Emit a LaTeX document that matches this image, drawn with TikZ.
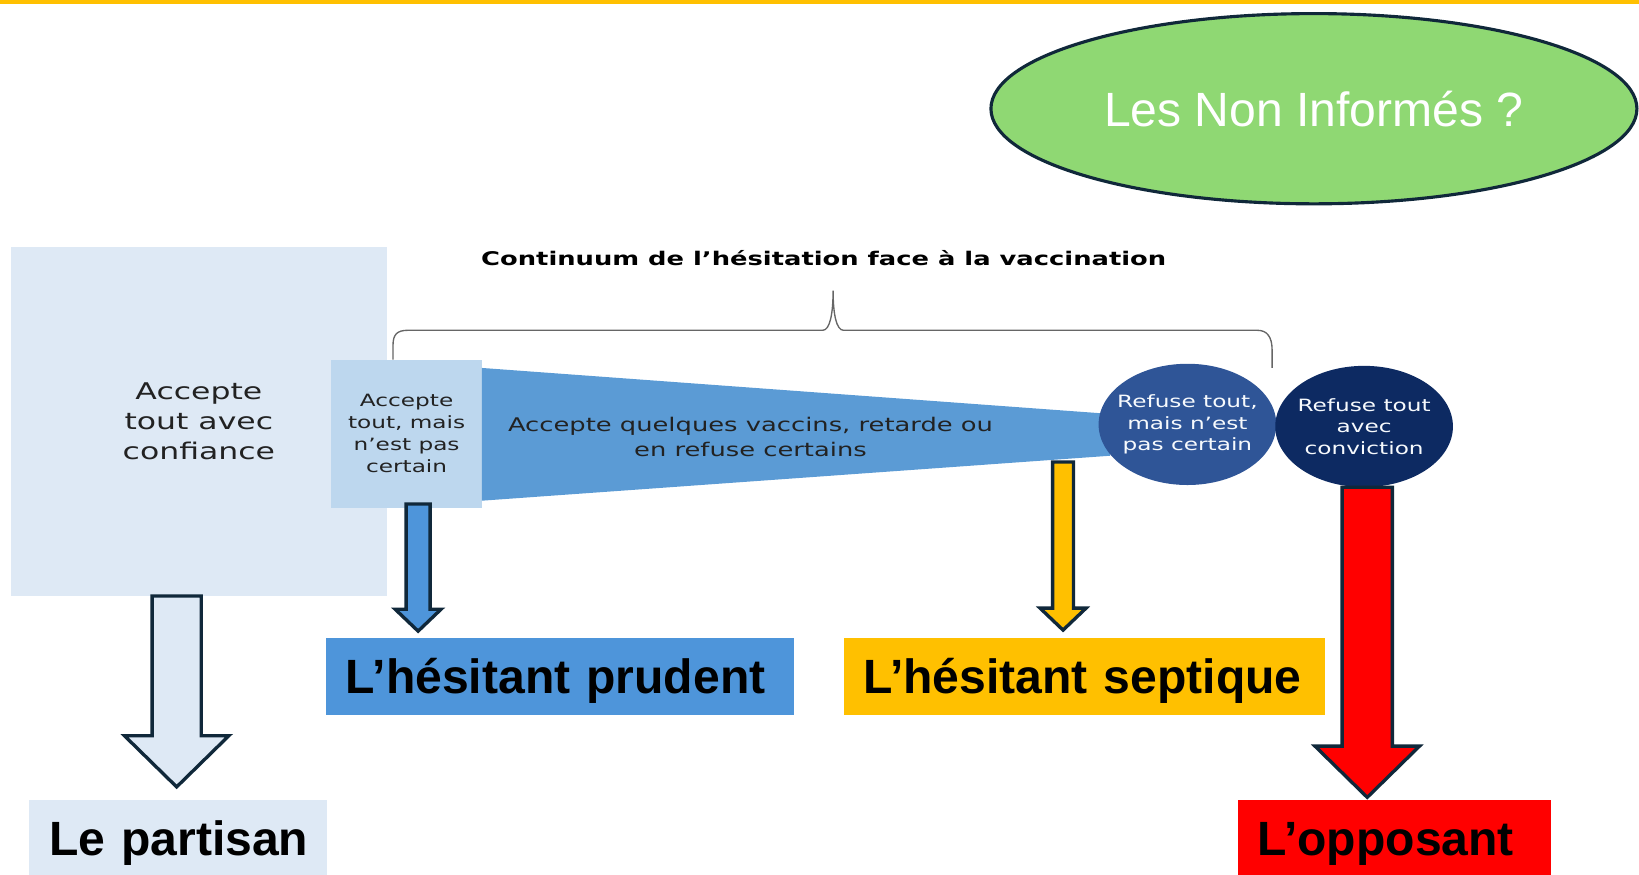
\documentclass[tikz,border=0pt]{standalone}
\usepackage{fontspec}
\setmainfont{Liberation Sans}
\newfontfamily\vfont[FakeStretch=1.37]{DejaVu Sans}
\usetikzlibrary{shapes.geometric,calc}

\definecolor{gold}{HTML}{FFC000}
\definecolor{leaf}{HTML}{8FD873}
\definecolor{navy}{HTML}{10283A}
\definecolor{paleblue}{HTML}{DEE9F5}
\definecolor{lightblue}{HTML}{BDD7EE}
\definecolor{midblue}{HTML}{5B9BD5}
\definecolor{prudentblue}{HTML}{4E95DA}
\definecolor{deepblue}{HTML}{2F5597}
\definecolor{nightblue}{HTML}{0D2A62}
\definecolor{textgray}{HTML}{222222}

% fill, top, tip, half shaft, half head, head length
\newcommand\blockarrow[6]{%
  \draw[arrowline,fill=#1] ($(#2)+(-#4,0)$) -- ($(#3)+(-#4,-#6)$) -- ($(#3)+(-#5,-#6)$)
    -- (#3) -- ($(#3)+(#5,-#6)$) -- ($(#3)+(#4,-#6)$) -- ($(#2)+(#4,0)$) -- cycle;}

\begin{document}
\begin{tikzpicture}[x=1pt,y=-1pt,
    panel/.style={rectangle,inner sep=0pt,align=center,text=textgray},
    refusal/.style={ellipse,inner sep=-20pt,minimum width=170,minimum height=116,align=center,
      text=white!88!lightblue,font=\vfont\fontsize{16.2}{20.5}\selectfont},
    tag/.style={rectangle,inner xsep=19pt,inner ysep=0pt,align=left,text=black,
      text height=33,text depth=0,font=\bfseries\fontsize{46}{46}\selectfont},
    arrowline/.style={draw=navy,line width=3.2pt,line join=miter}]
  \useasboundingbox (0,0) rectangle (1568,837);
  \fill[gold] (0,0) rectangle (1568,3.5);

  \node[ellipse,draw=navy,line width=3pt,fill=leaf,minimum width=618,minimum height=182,inner sep=0pt,
    text=white,font=\fontsize{46}{46}\selectfont] (uninformed) at (1257,104) {Les Non Informés ?};

  \node[panel,fill=paleblue,minimum width=359.5,minimum height=334,
    font=\vfont\fontsize{22}{28.5}\selectfont] (confident) at (190.25,403) {Accepte\\tout avec\\confiance};
  \node[panel,fill=lightblue,minimum width=144,minimum height=142,
    font=\vfont\fontsize{16.2}{21}\selectfont] (cautious) at (389,415) {Accepte\\tout, mais\\n’est pas\\certain};

  \fill[midblue] (461,352) -- (1062,396) -- (1062,436) -- (461,479) -- cycle;
  \node[panel,font=\vfont\fontsize{18}{24}\selectfont] (partial) at (718,418)
    {Accepte quelques vaccins, retarde ou\\en refuse certains};

  \node[refusal,fill=deepblue] (refuseunsure) at (1136,406) {Refuse tout,\\mais n’est\\pas certain};
  \node[refusal,fill=nightblue] (refusesure) at (1305,408) {Refuse tout\\avec\\conviction};

  \draw[gray!80!black,line width=1.3pt] (376,344) -- (376,330) .. controls (376,320) and (380,316) .. (390,316)
    -- (787,316) .. controls (794,316) and (797,300) .. (797,278) .. controls (797,300) and (800,316) .. (807,316)
    -- (1203,316) .. controls (1212,316) and (1217,322) .. (1217,335) -- (1217,352);
  \node[font=\vfont\bfseries\fontsize{18}{18}\selectfont,text=black] (continuum) at (788,247)
    {Continuum de l’hésitation face à la vaccination};

  \node[tag,fill=paleblue,text width=247,minimum height=74] (partisan) at (170.5,802) {\mbox{Le partisan}};
  \node[tag,fill=prudentblue,text width=410,minimum height=74] (prudent) at (536,647) {\mbox{L’hésitant prudent}};
  \node[tag,fill=gold,text width=423,minimum height=74] (septic) at (1037.5,647) {\mbox{L’hésitant septique}};
  \node[tag,fill=red,text width=262,minimum height=74] (opposant) at (1334,802) {\mbox{L’opposant}};

  \coordinate (partisantop) at (confident.south -| 169,0);
  \coordinate (partisantip) at ($(partisan.north -| 169,0)+(0,-12)$);
  \coordinate (prudenttop) at ($(cautious.south -| 400,0)+(0,-4)$);
  \coordinate (prudenttip) at ($(prudent.north -| 400,0)+(0,-6)$);
  \coordinate (septictop) at (1017,442);
  \coordinate (septictip) at ($(septic.north -| 1017,0)+(0,-7)$);
  \coordinate (opposanttop) at (refusesure.south -| 1308,0);
  \coordinate (opposanttip) at ($(opposant.north -| 1308,0)+(0,-2)$);

  \blockarrow{paleblue}{partisantop}{partisantip}{23.5}{50}{49}
  \blockarrow{prudentblue}{prudenttop}{prudenttip}{11.5}{22}{21}
  \blockarrow{gold}{septictop}{septictip}{10}{22}{21}
  \blockarrow{red}{opposanttop}{opposanttip}{24}{50}{49}
\end{tikzpicture}
\end{document}
